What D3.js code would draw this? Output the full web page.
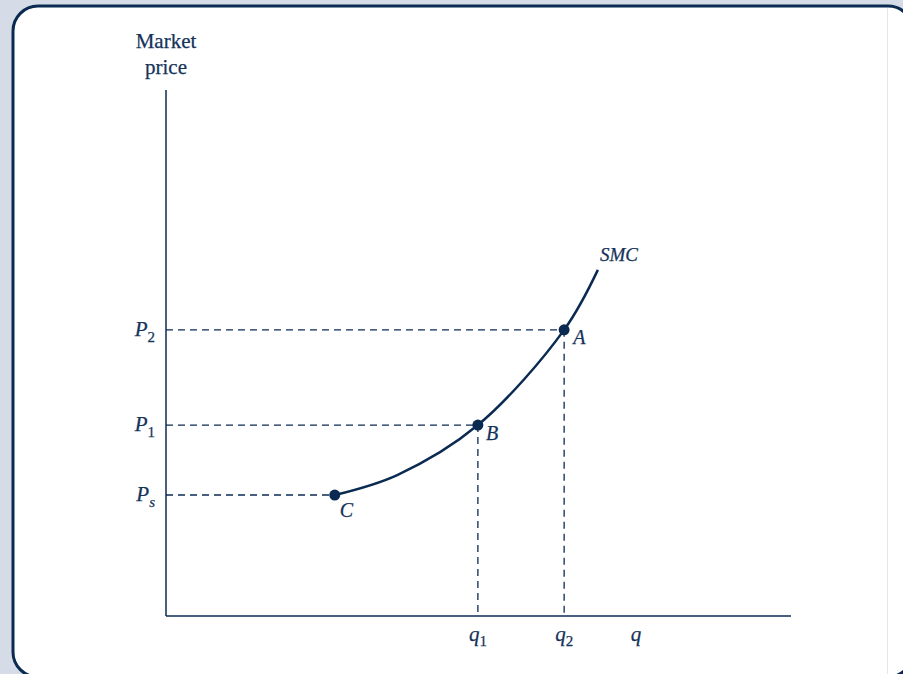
<!DOCTYPE html>
<html><head><meta charset="utf-8">
<script src="https://cdn.jsdelivr.net/npm/d3@7"></script>
<style>
html,body{margin:0;padding:0;background:#d5dce8;}
svg{display:block;}
</style></head>
<body>
<script>
// Data (model units: x 0..100 quantity, y 0..100 price)
const curveX = [27.0, 37.0, 49.9, 63.7, 69.1];
const curveY = [23.0, 26.8, 36.3, 54.4, 65.8];
const pointNames = ["C", "B", "A"];
const pointX = [27.0, 49.9, 63.7];
const pointY = [23.0, 36.3, 54.4];
const priceTickLabels = ["P", "P", "P"];
const priceTickSubs = ["s", "1", "2"];
const priceTickValues = [23.0, 36.3, 54.4];
const qTickLabels = ["q", "q"];
const qTickSubs = ["1", "2"];
const qTickValues = [49.9, 63.7];
const qAxisLabel = "q";
const qAxisLabelX = 75.2;
const curveLabel = "SMC";
const yAxisTitle = ["Market", "price"];

const W = 903, H = 674;
const navy = "#0b2a52";
const txt = "#15335a";
const FONT = "'Liberation Serif', 'DejaVu Serif', 'Times New Roman', serif";
const svg = d3.select("body").append("svg").attr("width", W).attr("height", H)
  .attr("font-family", FONT);

// card
svg.append("rect").attr("x", 0).attr("y", 0).attr("width", W).attr("height", H).attr("fill", "#d5dce8");
svg.append("rect").attr("x", 13).attr("y", 6).attr("width", 900).attr("height", 671)
  .attr("rx", 25).attr("ry", 25).attr("fill", "#fff").attr("stroke", navy).attr("stroke-width", 3);
svg.append("line").attr("x1", 887.5).attr("x2", 887.5).attr("y1", 8).attr("y2", H)
  .attr("stroke", "#e6e6e6").attr("stroke-width", 1);

const x = d3.scaleLinear().domain([0, 100]).range([166, 791]);
const y = d3.scaleLinear().domain([0, 100]).range([616, 90]);

// axes
const g = svg.append("g");
g.append("line").attr("x1", x(0)).attr("x2", x(0)).attr("y1", y(100)).attr("y2", y(0))
  .attr("stroke", navy).attr("stroke-width", 1.5);
g.append("line").attr("x1", x(0)).attr("x2", x(100)).attr("y1", y(0)).attr("y2", y(0))
  .attr("stroke", navy).attr("stroke-width", 1.5);

// axis title
yAxisTitle.forEach((t, i) => {
  g.append("text").attr("x", x(0)).attr("y", 48 + i * 26).attr("text-anchor", "middle")
    .attr("font-size", 21).attr("fill", txt).attr("stroke", txt).attr("stroke-width", 0.25).text(t);
});

// dashed guides
const dash = "7,5";
pointX.forEach((px, i) => {
  g.append("line").attr("x1", x(0)).attr("x2", x(px)).attr("y1", y(pointY[i])).attr("y2", y(pointY[i]))
    .attr("stroke", navy).attr("stroke-width", 1.3).attr("stroke-dasharray", dash);
  if (i > 0) {
    g.append("line").attr("x1", x(px)).attr("x2", x(px)).attr("y1", y(pointY[i])).attr("y2", y(0))
      .attr("stroke", navy).attr("stroke-width", 1.3).attr("stroke-dasharray", dash);
  }
});

// curve
const line = d3.line().x((d) => x(d[0])).y((d) => y(d[1])).curve(d3.curveCatmullRom.alpha(0.5));
g.append("path").datum(curveX.map((v, i) => [v, curveY[i]])).attr("d", line)
  .attr("fill", "none").attr("stroke", navy).attr("stroke-width", 2.5);

// points
pointX.forEach((px, i) => {
  g.append("circle").attr("cx", x(px)).attr("cy", y(pointY[i])).attr("r", 5.5).attr("fill", navy);
});
const ptOffsets = [[5, 22], [8, 15], [9, 14]];
pointNames.forEach((n, i) => {
  g.append("text").attr("x", x(pointX[i]) + ptOffsets[i][0]).attr("y", y(pointY[i]) + ptOffsets[i][1])
    .attr("font-size", 20).attr("font-style", "italic").attr("fill", txt)
    .attr("stroke", txt).attr("stroke-width", 0.25).text(n);
});

// curve label
g.append("text").attr("x", x(curveX[curveX.length - 1]) + 2).attr("y", y(curveY[curveY.length - 1]) - 9)
  .attr("font-size", 19).attr("font-style", "italic").attr("fill", txt)
  .attr("stroke", txt).attr("stroke-width", 0.25).text(curveLabel);

// price tick labels
priceTickValues.forEach((v, i) => {
  const t = g.append("text").attr("x", x(0) - 11).attr("y", y(v) + 6).attr("text-anchor", "end")
    .attr("font-size", 21).attr("font-style", "italic").attr("fill", txt)
    .attr("stroke", txt).attr("stroke-width", 0.25);
  t.append("tspan").text(priceTickLabels[i]);
  t.append("tspan").attr("dy", 6).attr("font-size", 15)
    .attr("font-style", priceTickSubs[i] === "s" ? "italic" : "normal").text(priceTickSubs[i]);
});

// quantity tick labels
qTickValues.forEach((v, i) => {
  const t = g.append("text").attr("x", x(v)).attr("y", y(0) + 25).attr("text-anchor", "middle")
    .attr("font-size", 21).attr("font-style", "italic").attr("fill", txt)
    .attr("stroke", txt).attr("stroke-width", 0.25);
  t.append("tspan").text(qTickLabels[i]);
  t.append("tspan").attr("dy", 5).attr("font-size", 15).attr("font-style", "normal").text(qTickSubs[i]);
});
g.append("text").attr("x", x(qAxisLabelX)).attr("y", y(0) + 25).attr("text-anchor", "middle")
  .attr("font-size", 21).attr("font-style", "italic").attr("fill", txt)
  .attr("stroke", txt).attr("stroke-width", 0.25).text(qAxisLabel);
</script>
</body></html>
